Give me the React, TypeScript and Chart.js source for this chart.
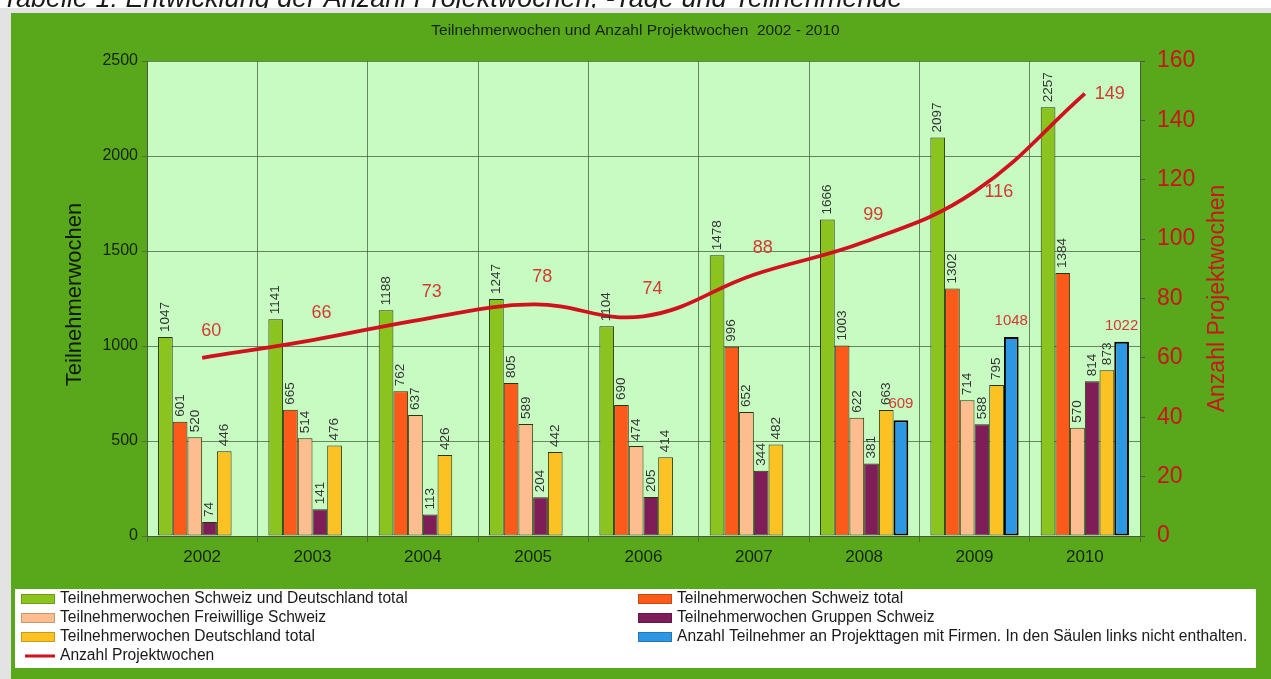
import React, { useEffect, useRef } from 'react';
import { Chart, registerables } from 'chart.js';

Chart.register(...registerables);

// ---- data ----
const years = ['2002', '2003', '2004', '2005', '2006', '2007', '2008', '2009', '2010'];
const totalSchweizDeutschland = [1047, 1141, 1188, 1247, 1104, 1478, 1666, 2097, 2257];
const totalSchweiz = [601, 665, 762, 805, 690, 996, 1003, 1302, 1384];
const freiwilligeSchweiz = [520, 514, 637, 589, 474, 652, 622, 714, 570];
const gruppenSchweiz = [74, 141, 113, 204, 205, 344, 381, 588, 814];
const totalDeutschland = [446, 476, 426, 442, 414, 482, 663, 795, 873];
const firmenTeilnehmer = [null, null, null, null, null, null, 609, 1048, 1022];
const projektwochen = [60, 66, 73, 78, 74, 88, 99, 116, 149];

const leftTickMax = 2500;
const leftTickStep = 500;
const rightTickMax = 160;
const rightTickStep = 20;

const captionText = 'Tabelle 1: Entwicklung der Anzahl Projektwochen, -Tage und Teilnehmende';
const chartTitle = 'Teilnehmerwochen und Anzahl Projektwochen  2002 - 2010';
const leftAxisTitle = 'Teilnehmerwochen';
const rightAxisTitle = 'Anzahl Projektwochen';

const labelsSeries = [
  'Teilnehmerwochen Schweiz und Deutschland total',
  'Teilnehmerwochen Schweiz total',
  'Teilnehmerwochen Freiwillige Schweiz',
  'Teilnehmerwochen Gruppen Schweiz',
  'Teilnehmerwochen Deutschland total',
  'Anzahl Teilnehmer an Projekttagen mit Firmen. In den Säulen links nicht enthalten.',
  'Anzahl Projektwochen',
];

// ---- styles ----
const FONT = '"Liberation Sans", Arial, Helvetica, sans-serif';
const W = 1271;
const H = 679;
const PANEL_GREEN = '#59a71a';
const PLOT_BG = '#c8fbc2';
const GRID = 'rgba(70,95,60,0.75)';
const RED = '#d0121e';
const RED_TEXT = '#cf3b33';
const barColors = ['#8bc41e', '#fb5a1b', '#fdbd8e', '#7e1d58', '#fcc224', '#2c97e2'];

const decorPlugin = {
  id: 'decor',
  beforeDraw(chart: any) {
    const { ctx, chartArea } = chart;
    ctx.save();
    ctx.fillStyle = '#ffffff';
    ctx.fillRect(0, 0, W, H);
    // caption (clipped at top)
    ctx.fillStyle = '#1a1a1a';
    ctx.font = `italic 27px ${FONT}`;
    ctx.textAlign = 'left';
    ctx.textBaseline = 'alphabetic';
    ctx.fillText(captionText, 2, 7);
    // frame
    ctx.fillStyle = '#e3e3e3';
    ctx.fillRect(0, 8, W, H - 8);
    ctx.fillStyle = PANEL_GREEN;
    ctx.fillRect(11, 13, W - 11, H - 13);
    // plot background
    ctx.fillStyle = PLOT_BG;
    ctx.fillRect(chartArea.left, chartArea.top, chartArea.right - chartArea.left, chartArea.bottom - chartArea.top);
    // title
    ctx.fillStyle = '#15240c';
    ctx.font = `15.5px ${FONT}`;
    ctx.textAlign = 'center';
    ctx.textBaseline = 'middle';
    ctx.fillText(chartTitle, W / 2, 31);
    // axis titles
    const cy = (chartArea.top + chartArea.bottom) / 2;
    ctx.save();
    ctx.translate(75, cy - 4);
    ctx.rotate(-Math.PI / 2);
    ctx.fillStyle = '#101a08';
    ctx.font = `22px ${FONT}`;
    ctx.fillText(leftAxisTitle, 0, 0);
    ctx.restore();
    ctx.save();
    ctx.translate(1218, cy);
    ctx.rotate(-Math.PI / 2);
    ctx.fillStyle = '#c8161c';
    ctx.font = `23px ${FONT}`;
    ctx.fillText(rightAxisTitle, 0, 0);
    ctx.restore();
    ctx.restore();
  },
  afterDatasetsDraw(chart: any) {
    const { ctx } = chart;
    ctx.save();
    // bar labels
    for (let i = 0; i < 6; i++) {
      const ds = chart.data.datasets[i];
      const meta = chart.getDatasetMeta(i);
      meta.data.forEach((el: any, j: number) => {
        const v = ds.data[j];
        if (v == null) return;
        const { x, y } = el.getProps(['x', 'y'], true);
        if (i === 5) {
          ctx.fillStyle = RED_TEXT;
          ctx.font = `15px ${FONT}`;
          ctx.textAlign = 'center';
          ctx.textBaseline = 'middle';
          ctx.fillText(String(v), x, y - 16);
        } else {
          ctx.save();
          ctx.translate(x, y - 5);
          ctx.rotate(-Math.PI / 2);
          ctx.fillStyle = '#333333';
          ctx.font = `13.5px ${FONT}`;
          ctx.textAlign = 'left';
          ctx.textBaseline = 'middle';
          ctx.fillText(String(v), 0, 0);
          ctx.restore();
        }
      });
    }
    // line labels
    const li = 6;
    const lds = chart.data.datasets[li];
    const lmeta = chart.getDatasetMeta(li);
    ctx.fillStyle = RED_TEXT;
    ctx.font = `18px ${FONT}`;
    lmeta.data.forEach((el: any, j: number) => {
      const v = lds.data[j];
      const { x, y } = el.getProps(['x', 'y'], true);
      if (v > 100) {
        ctx.textAlign = 'left';
        ctx.textBaseline = 'middle';
        ctx.fillText(String(v), x + 10, y);
      } else {
        ctx.textAlign = 'center';
        ctx.textBaseline = 'middle';
        ctx.fillText(String(v), x + 9, y - 27);
      }
    });
    ctx.restore();
  },
  afterDraw(chart: any) {
    const { ctx } = chart;
    ctx.save();
    // legend box
    ctx.fillStyle = '#ffffff';
    ctx.fillRect(15, 589, 1241, 79);
    const rows = [599, 618, 637, 656];
    const cols = [20, 637];
    const items = [
      { col: 0, row: 0, idx: 0 },
      { col: 0, row: 1, idx: 2 },
      { col: 0, row: 2, idx: 4 },
      { col: 0, row: 3, idx: 6 },
      { col: 1, row: 0, idx: 1 },
      { col: 1, row: 1, idx: 3 },
      { col: 1, row: 2, idx: 5 },
    ];
    ctx.font = `15.6px ${FONT}`;
    ctx.textAlign = 'left';
    ctx.textBaseline = 'middle';
    items.forEach((it) => {
      const x = cols[it.col];
      const y = rows[it.row];
      const ds = chart.data.datasets[it.idx];
      if (ds.type === 'line') {
        ctx.fillStyle = ds.borderColor;
        ctx.fillRect(x + 5, y - 1.5, 30, 3);
      } else {
        ctx.fillStyle = ds.backgroundColor;
        ctx.fillRect(x + 1, y - 5, 34, 10);
        ctx.strokeStyle = 'rgba(0,0,0,0.2)';
        ctx.lineWidth = 1;
        ctx.strokeRect(x + 1.5, y - 4.5, 33, 9);
      }
      ctx.fillStyle = '#1a1a1a';
      ctx.fillText(ds.label, x + 40, y);
    });
    ctx.restore();
  },
};

export default function App() {
  const ref = useRef<HTMLCanvasElement>(null);
  useEffect(() => {
    if (!ref.current) return;
    document.body.style.margin = '0';
    const barSeries = [
      totalSchweizDeutschland,
      totalSchweiz,
      freiwilligeSchweiz,
      gruppenSchweiz,
      totalDeutschland,
      firmenTeilnehmer,
    ];
    const datasets: any[] = barSeries.map((data, i) => ({
      type: 'bar',
      label: labelsSeries[i],
      data,
      backgroundColor: barColors[i],
      borderColor: i === 5 ? '#050505' : '#26360c',
      borderWidth: i === 5 ? 2 : 1,
      borderSkipped: false,
      yAxisID: 'y',
      order: 2,
      categoryPercentage: 0.8,
      barPercentage: 1.0,
      grouped: true,
    }));
    datasets.push({
      type: 'line',
      label: labelsSeries[6],
      data: projektwochen,
      borderColor: RED,
      backgroundColor: RED,
      borderWidth: 3.8,
      pointRadius: 0,
      tension: 0.4,
      yAxisID: 'y1',
      order: 0,
    });

    const chart = new Chart(ref.current, {
      type: 'bar',
      data: { labels: years, datasets },
      options: {
        responsive: false,
        animation: false,
        devicePixelRatio: 1,
        layout: { padding: { top: 61, left: 0, right: 0, bottom: 0 } },
        plugins: { legend: { display: false }, tooltip: { enabled: false }, title: { display: false } },
        scales: {
          x: {
            offset: true,
            grid: { offset: true, color: GRID, lineWidth: 1, tickLength: 6, drawTicks: true },
            border: { display: true, color: '#4a5a40', width: 1 },
            ticks: { color: '#15240c', font: { family: FONT, size: 17 }, padding: 5 },
            afterFit: (s: any) => { s.height = H - 536; },
          },
          y: {
            position: 'left',
            min: 0,
            max: leftTickMax,
            ticks: {
              stepSize: leftTickStep,
              color: '#15240c',
              font: { family: FONT, size: 16 },
              padding: 4,
              callback: (v: any) => String(v),
            },
            grid: { color: GRID, lineWidth: 1, tickLength: 5 },
            border: { display: true, color: '#4a5a40', width: 1 },
            afterFit: (s: any) => { s.width = 147; },
          },
          y1: {
            position: 'right',
            min: 0,
            max: rightTickMax,
            ticks: {
              stepSize: rightTickStep,
              color: '#c8161c',
              font: { family: FONT, size: 23 },
              padding: 12,
              callback: (v: any) => String(v),
            },
            grid: { drawOnChartArea: false, color: '#4a5a40', tickLength: 5 },
            border: { display: true, color: '#4a5a40', width: 1 },
            afterFit: (s: any) => { s.width = W - 1140; },
          },
        },
      } as any,
      plugins: [decorPlugin],
    });
    return () => chart.destroy();
  }, []);
  return (
    <div style={{ position: 'fixed', left: 0, top: 0, width: W, height: H, background: '#fff' }}>
      <canvas ref={ref} width={W} height={H} style={{ width: W, height: H, display: 'block' }} />
    </div>
  );
}
